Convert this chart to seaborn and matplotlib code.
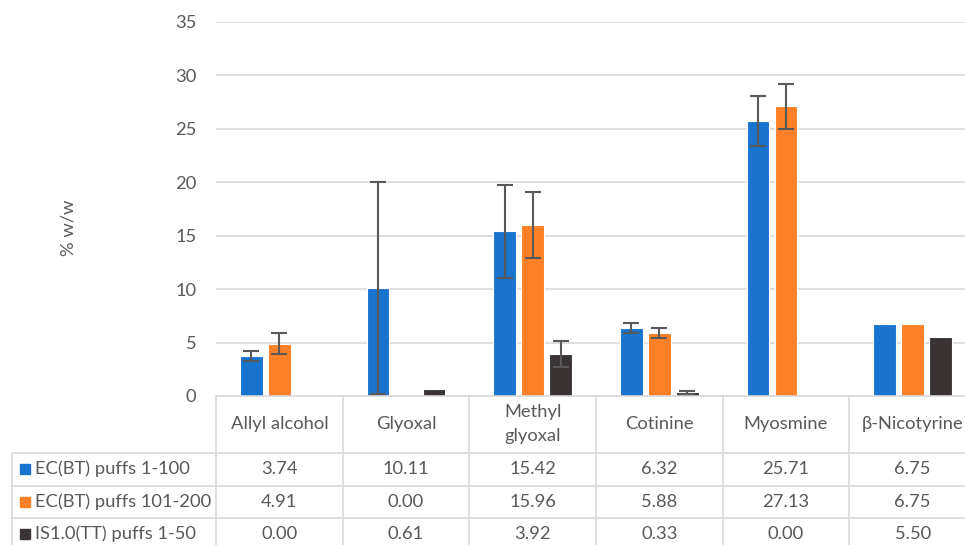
import numpy as np
import pandas as pd
import seaborn as sns
import matplotlib.pyplot as plt
import matplotlib.transforms as mtransforms

# data
compounds = ["Allyl alcohol", "Glyoxal", "Methyl\nglyoxal", "Cotinine", "Myosmine", "β-Nicotyrine"]
series = ["EC(BT) puffs 1-100", "EC(BT) puffs 101-200", "IS1.0(TT) puffs 1-50"]
bt_1_100 = [3.74, 10.11, 15.42, 6.32, 25.71, 6.75]
bt_101_200 = [4.91, 0.00, 15.96, 5.88, 27.13, 6.75]
is_1_50 = [0.00, 0.61, 3.92, 0.33, 0.00, 5.50]
err_1_100 = [0.51, 9.95, 4.34, 0.47, 2.35, 0]
err_101_200 = [1.01, 0, 3.09, 0.45, 2.10, 0]
err_1_50 = [0, 0, 1.23, 0.14, 0, 0]
colors = ["#1874CD", "#FF8026", "#393433"]

sns.set_theme(style="white")
plt.rcParams['font.family'] = ['Lato', 'DejaVu Sans']
txt = "#595959"
line_c = "#D9D9D9"
fs = 13.2

df = pd.DataFrame({
    "compound": compounds * 3,
    "series": np.repeat(series, len(compounds)),
    "value": bt_1_100 + bt_101_200 + is_1_50,
})

fig = plt.figure(figsize=(9.65, 5.45), dpi=100)
ax = fig.add_axes([216 / 965, 149 / 545, 760 / 965, 374 / 545])

sns.barplot(data=df, x="compound", y="value", hue="series", palette=colors,
            saturation=1, width=0.663, gap=0.2, edgecolor="white", linewidth=0.8,
            errorbar=None, legend=False, ax=ax)

for cont, errs in zip(ax.containers, [err_1_100, err_101_200, err_1_50]):
    for bar, e in zip(cont, errs):
        if e > 0:
            ax.errorbar(bar.get_x() + bar.get_width() / 2, bar.get_height(), yerr=e,
                        fmt="none", ecolor="#595959", elinewidth=1.5, capsize=5.5,
                        capthick=1.5, zorder=5)

ax.set_xlim(-0.5, 5.5)
ax.set_ylim(0, 35)
ax.set_yticks(range(0, 36, 5))
ax.yaxis.grid(True, color=line_c, lw=1.2)
ax.set_axisbelow(True)
for s in ax.spines.values():
    s.set_visible(False)
ax.tick_params(axis="y", length=0, pad=14, labelsize=fs, labelcolor=txt)
ax.set_xticks([])
ax.set_xlabel("")
ax.set_ylabel("% w/w", fontsize=fs, color=txt)
ax.yaxis.set_label_coords(-0.184, 0.45)

# data table under the chart
tr = mtransforms.blended_transform_factory(ax.transData, ax.transAxes)
px = 1 / 374.0
y_rows = [-(452.7 - 396) * px, -(485.5 - 396) * px, -(517.7 - 396) * px]
y_bot = -(560 - 396) * px
x_left = -0.5 - (216 - 12) / 126.7
kw = dict(color=line_c, lw=1.2, transform=tr, clip_on=False)
ax.plot([-0.5, 6.5], [0, 0], **kw)
for y in y_rows:
    ax.plot([x_left, 6.5], [y, y], **kw)
ax.plot([x_left, x_left], [y_rows[0], y_bot], **kw)
for xb in np.arange(-0.5, 6, 1.0):
    ax.plot([xb, xb], [0, y_bot], **kw)

for i, c in enumerate(compounds):
    ax.text(i, -(424 - 396) * px, c, ha="center", va="center", fontsize=fs,
            color=txt, transform=tr, linespacing=1.6)

y_text = [-(469 - 396) * px, -(501.6 - 396) * px, -(534 - 396) * px]
for vals, name, col, y in zip([bt_1_100, bt_101_200, is_1_50], series, colors, y_text):
    ax.plot([-0.5 - (216 - 25) / 126.7], [y], marker="s", ms=7.5, color=col,
            transform=tr, clip_on=False)
    ax.text(-0.5 - (216 - 35) / 126.7, y, name, ha="left", va="center",
            fontsize=fs, color=txt, transform=tr)
    for i, v in enumerate(vals):
        ax.text(i, y, f"{v:.2f}", ha="center", va="center", fontsize=fs,
                color=txt, transform=tr)

fig.savefig("out.png", dpi=100)
